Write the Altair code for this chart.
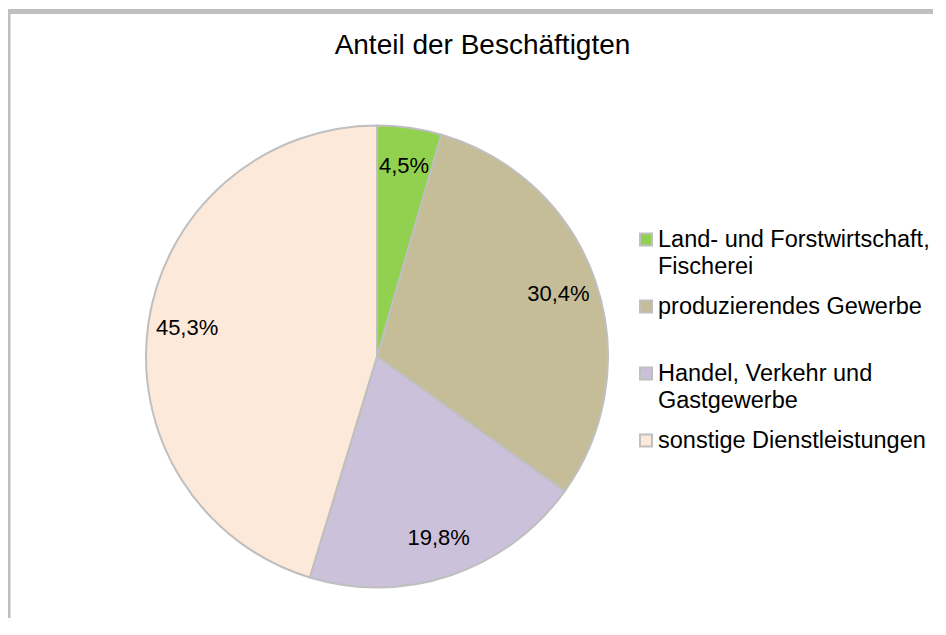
import altair as alt
import pandas as pd

# ---- data ----
categories = [
    "Land- und Forstwirtschaft, Fischerei",
    "produzierendes Gewerbe",
    "Handel, Verkehr und Gastgewerbe",
    "sonstige Dienstleistungen",
]
shares = [4.5, 30.4, 19.8, 45.3]
legend_line1 = ["Land- und Forstwirtschaft,", "produzierendes Gewerbe", "Handel, Verkehr und", "sonstige Dienstleistungen"]
legend_line2 = ["Fischerei", "", "Gastgewerbe", ""]
colors = ["#92D050", "#C4BD97", "#CCC1DA", "#FDE9D9"]
title_text = "Anteil der Beschäftigten"

df = pd.DataFrame({
    "cat": categories,
    "value": shares,
    "idx": list(range(len(categories))),
    "l1": legend_line1,
    "l2": legend_line2,
})

FONT = "Liberation Sans"
GRID = "#BFBFBF"
W, H = 925, 610
CX, CY, R = 369, 348.5, 231

base = alt.Chart(df).transform_calculate(
    lbl="replace(format(datum.value, '.1f'), '.', ',') + '%'"
)
color = alt.Color("cat:N", scale=alt.Scale(domain=categories, range=colors), legend=None)
theta = alt.Theta("value:Q", stack=True)
order = alt.Order("idx:Q")

pie = base.mark_arc(outerRadius=R, stroke=GRID, strokeWidth=2).encode(
    theta=theta, order=order, color=color, x=alt.value(CX), y=alt.value(CY)
)
labels = base.mark_text(radius=192, font=FONT, fontSize=22, color="black").encode(
    theta=theta, order=order, text="lbl:N", x=alt.value(CX), y=alt.value(CY)
)

ypos = alt.Y("cat:N", scale=alt.Scale(type="point", domain=categories, range=[231.5, 432.5], padding=0), axis=None)
swatch = base.mark_square(size=144, stroke=GRID, strokeWidth=2, opacity=1).encode(
    x=alt.value(638), y=ypos, color=color
)
leg1 = base.mark_text(align="left", baseline="middle", font=FONT, fontSize=23.5, color="black").encode(
    x=alt.value(650), y=ypos, text="l1:N"
)
leg2 = base.mark_text(align="left", baseline="middle", dy=27, font=FONT, fontSize=23.5, color="black").encode(
    x=alt.value(650), y=ypos, text="l2:N"
)

one = pd.DataFrame({"t": [title_text]})
title = alt.Chart(one).mark_text(font=FONT, fontSize=28, align="center", baseline="alphabetic", color="black").encode(
    text="t:N", x=alt.value(474.5), y=alt.value(46)
)
frame_top = alt.Chart(one).mark_rule(color=GRID, strokeWidth=5).encode(
    x=alt.value(0), x2=alt.value(W), y=alt.value(3.5)
)
frame_left = alt.Chart(one).mark_rule(color=GRID, strokeWidth=5).encode(
    x=alt.value(0), y=alt.value(1), y2=alt.value(H)
)

chart = alt.layer(frame_top, frame_left, pie, labels, swatch, leg1, leg2, title).properties(
    width=W, height=H, padding=0,
    autosize=alt.AutoSizeParams(type="none"),
    background="white",
).configure_view(stroke=None)

chart.save("out.html", embed_options={"renderer": "svg", "actions": False})
